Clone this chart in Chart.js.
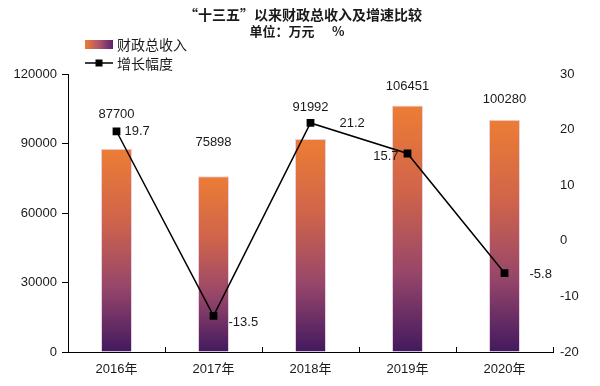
<!DOCTYPE html>
<html>
<head>
<meta charset="utf-8">
<script src="https://cdn.jsdelivr.net/npm/chart.js@4.4.1/dist/chart.umd.min.js"></script>
<style>
  html, body { margin: 0; padding: 0; background: #fff; }
  #wrap { width: 600px; height: 386px; }
</style>
</head>
<body>
<div id="wrap"><canvas id="c"></canvas></div>
<script>
const years = ['2016年', '2017年', '2018年', '2019年', '2020年'];
const revenue = [87700, 75898, 91992, 106451, 100280];
const growth = [19.7, -13.5, 21.2, 15.7, -5.8];
const titleLines = ['“十三五”以来财政总收入及增速比较', '单位：万元      %'];
const legendNames = ['财政总收入', '增长幅度'];

const FONT = '"Liberation Sans", Arial, "Noto Sans CJK SC", sans-serif';
const CJK = '"Noto Sans CJK SC", "Liberation Sans", sans-serif';
const TXT = '#1a1a1a';

// where each label sits relative to its mark
const barLabelGap = [34, 34, 31, 19, 20];
const lineLabelPos = [
    { dx: 8, dy: 0, align: 'left' },
    { dx: 15, dy: 7, align: 'left' },
    { dx: 29, dy: 0, align: 'left' },
    { dx: -9, dy: 3, align: 'right' },
    { dx: 25, dy: 1, align: 'left' }
];

function barGradient(context) {
    const chart = context.chart;
    if (!chart.chartArea || context.type !== 'data') return '#ec7d35';
    const y = chart.scales.y;
    const top = y.getPixelForValue(context.raw);
    const base = y.getPixelForValue(0);
    const g = chart.ctx.createLinearGradient(0, top, 0, base);
    g.addColorStop(0, '#ec7d35');
    g.addColorStop(0.35, '#d0644a');
    g.addColorStop(0.68, '#97466a');
    g.addColorStop(1, '#42195f');
    return g;
}

const decor = {
    id: 'decor',
    afterDraw(chart) {
        const ctx = chart.ctx;
        const x = chart.scales.x;
        const y = chart.scales.y;
        const y1 = chart.scales.y1;
        const area = chart.chartArea;
        ctx.save();

        // title
        ctx.fillStyle = TXT;
        ctx.textAlign = 'center';
        ctx.textBaseline = 'middle';
        ctx.font = 'bold 14px ' + CJK;
        ctx.fillText(titleLines[0], 303, 15);
        ctx.font = 'bold 13px ' + CJK;
        ctx.fillText(titleLines[1], 297, 31);

        // legend
        const lg = ctx.createLinearGradient(85, 0, 113, 0);
        lg.addColorStop(0, '#ec7d35');
        lg.addColorStop(0.5, '#b0546a');
        lg.addColorStop(1, '#5a2470');
        ctx.fillStyle = lg;
        ctx.fillRect(85, 40, 28, 9);
        ctx.strokeStyle = '#000';
        ctx.lineWidth = 1.5;
        ctx.beginPath();
        ctx.moveTo(85, 63);
        ctx.lineTo(113, 63);
        ctx.stroke();
        ctx.fillStyle = '#000';
        ctx.fillRect(95.5, 59.5, 7, 7);
        ctx.fillStyle = TXT;
        ctx.textAlign = 'left';
        ctx.font = '14px ' + CJK;
        ctx.fillText(legendNames[0], 117, 45);
        ctx.fillText(legendNames[1], 117, 64);

        // category boundary ticks on the x axis, pointing up
        ctx.strokeStyle = '#000';
        ctx.lineWidth = 1;
        for (let i = 0; i <= years.length; i++) {
            let px;
            if (i === 0) px = area.left;
            else if (i === years.length) px = area.right;
            else px = (x.getPixelForValue(i - 1) + x.getPixelForValue(i)) / 2;
            px = Math.round(px) + 0.5;
            ctx.beginPath();
            ctx.moveTo(px, area.bottom);
            ctx.lineTo(px, area.bottom - 5);
            ctx.stroke();
        }

        // bar value labels
        ctx.fillStyle = TXT;
        ctx.font = '13px ' + FONT;
        ctx.textAlign = 'center';
        revenue.forEach((v, i) => {
            ctx.fillText(String(v), x.getPixelForValue(i), y.getPixelForValue(v) - barLabelGap[i]);
        });

        // growth labels
        growth.forEach((v, i) => {
            const p = lineLabelPos[i];
            ctx.textAlign = p.align;
            ctx.fillText(v.toFixed(1), x.getPixelForValue(i) + p.dx, y1.getPixelForValue(v) + p.dy);
        });
        ctx.restore();
    }
};

new Chart(document.getElementById('c'), {
    type: 'bar',
    data: {
        labels: years,
        datasets: [
            {
                type: 'line',
                label: legendNames[1],
                data: growth,
                yAxisID: 'y1',
                borderColor: '#000',
                borderWidth: 1.5,
                pointStyle: 'rect',
                pointRadius: 5.5,
                pointBackgroundColor: '#000',
                pointBorderColor: '#000',
                pointBorderWidth: 0,
                tension: 0,
                order: 0
            },
            {
                label: legendNames[0],
                data: revenue,
                yAxisID: 'y',
                backgroundColor: barGradient,
                borderColor: 'rgba(225,190,215,0.7)',
                borderWidth: { left: 1, right: 1, top: 1, bottom: 0 },
                barPercentage: 0.32,
                categoryPercentage: 1,
                order: 1
            }
        ]
    },
    options: {
        responsive: true,
        maintainAspectRatio: false,
        animation: false,
        layout: { padding: { top: 74, left: 0, right: 0, bottom: 0 } },
        plugins: {
            legend: { display: false },
            title: { display: false },
            tooltip: { enabled: false }
        },
        scales: {
            x: {
                grid: { display: false, drawTicks: false },
                border: { display: true, color: '#000', width: 1 },
                ticks: { color: TXT, font: { size: 13, family: FONT }, padding: 10 },
                afterFit(s) { s.height = 34; }
            },
            y: {
                position: 'left',
                min: 0,
                max: 120000,
                ticks: {
                    stepSize: 30000,
                    color: TXT,
                    font: { size: 13, family: FONT },
                    padding: 5,
                    callback: (v) => String(v)
                },
                grid: { drawOnChartArea: false, drawTicks: true, tickLength: 6, color: '#000' },
                border: { display: true, color: '#000', width: 1 },
                afterFit(s) { s.width = 68; }
            },
            y1: {
                position: 'right',
                min: -20,
                max: 30,
                ticks: { stepSize: 10, color: TXT, font: { size: 13, family: FONT }, padding: 7 },
                grid: { display: false, drawTicks: false },
                border: { display: false },
                afterFit(s) { s.width = 47; }
            }
        }
    },
    plugins: [decor]
});
</script>
</body>
</html>
